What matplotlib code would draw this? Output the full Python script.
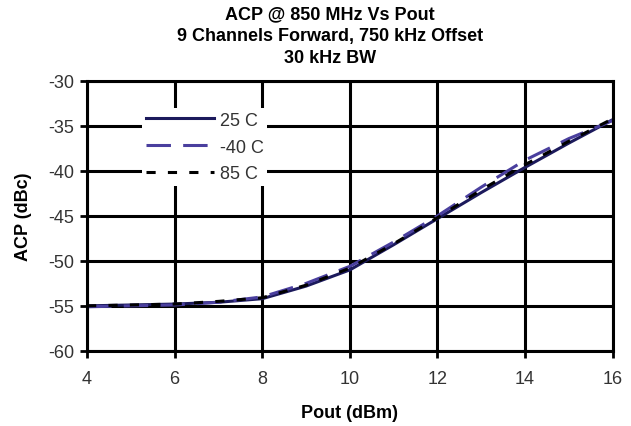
import matplotlib.pyplot as plt
import numpy as np

plt.rcParams['font.family'] = ['Liberation Sans', 'DejaVu Sans']
plt.rcParams['axes.unicode_minus'] = False

pout = [4, 5, 6, 7, 8, 9, 10, 11, 12, 13, 14, 15, 16]
acp_25 = [-55.0, -54.9, -54.8, -54.6, -54.2, -52.8, -51.0, -48.2, -45.3, -42.4, -39.6, -36.9, -34.3]
acp_m40 = [-55.1, -55.0, -54.9, -54.6, -54.0, -52.5, -50.6, -47.9, -45.0, -41.8, -38.8, -36.4, -34.4]
acp_85 = [-55.0, -54.9, -54.8, -54.5, -54.1, -52.7, -50.8, -48.1, -45.2, -42.1, -39.3, -36.7, -34.2]

fig = plt.figure(figsize=(6.31, 4.27), dpi=100)
ax = fig.add_axes([0.138, 0.176, 0.833, 0.632])

ax.plot(pout, acp_25, color='#1c1a5c', linewidth=2.2, label='25 C')
ax.plot(pout, acp_m40, color='#4a3f9e', linewidth=2.2, dashes=(8, 4), label='-40 C')
ax.plot(pout, acp_85, color='black', linewidth=2.2, dashes=(3, 4), label='85 C')

ax.set_xlim(4, 16)
ax.set_ylim(-60, -30)
ax.set_xticks(np.arange(4, 17, 2))
ax.set_yticks(np.arange(-60, -29, 5))
ax.grid(True, color='black', linewidth=2.2)
ax.set_axisbelow(True)
for s in ax.spines.values():
    s.set_linewidth(2.2)
ax.tick_params(labelsize=13, width=2, length=5, colors='black', labelcolor='#333333')
ax.tick_params(axis='x', pad=9)
ax.tick_params(axis='y', pad=4)

ax.set_xlabel('Pout (dBm)', fontsize=13, fontweight='bold', labelpad=12)
ax.set_ylabel('ACP (dBc)', fontsize=13, fontweight='bold', labelpad=12)
fig.suptitle('ACP @ 850 MHz Vs Pout\n9 Channels Forward, 750 kHz Offset\n30 kHz BW',
             fontsize=13, fontweight='bold', x=0.523, y=0.985, linespacing=1.35)

leg = ax.legend(loc='upper left', bbox_to_anchor=(0.105, 0.9), fontsize=13, frameon=True,
                facecolor='white', edgecolor='none', framealpha=1, handlelength=3.8,
                labelspacing=0.55, borderpad=0.2, handletextpad=0.3, borderaxespad=0)
for t in leg.get_texts():
    t.set_color('#333333')

plt.savefig('out.png', dpi=100)
